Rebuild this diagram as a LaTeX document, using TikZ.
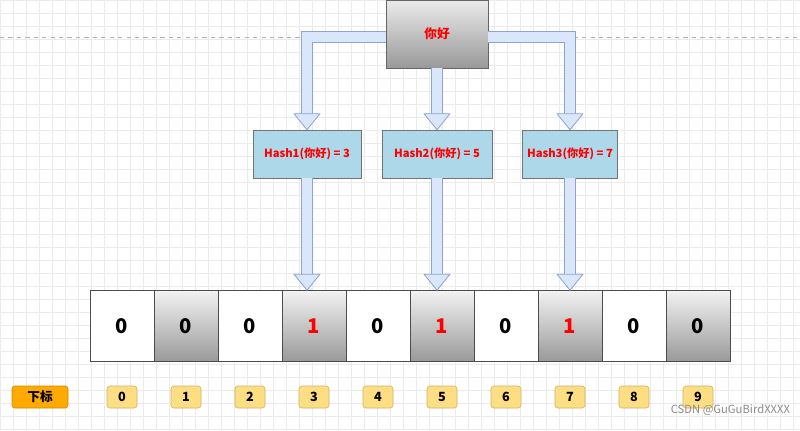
\documentclass[tikz,border=0pt]{standalone}
\usepackage{fontspec}
\setmainfont{Noto Sans CJK SC}
\usetikzlibrary{positioning}
\definecolor{arrowline}{RGB}{140,165,215}
\definecolor{arrowfill}{RGB}{218,230,250}
\definecolor{hashfill}{RGB}{172,216,234}
\definecolor{idxfill}{RGB}{253,222,130}
\definecolor{keyfill}{RGB}{255,170,0}
\tikzset{
  cell/.style={draw=black!70, minimum width=64*0.025cm, minimum height=71*0.025cm, inner sep=0pt, font=\bfseries\Large},
  shaded cell/.style={cell, top color=black!5, bottom color=black!40},
  hashbox/.style={draw=black!55, fill=hashfill, minimum width=#1*0.025cm, minimum height=48*0.025cm, font=\bfseries\footnotesize, text=red},
  idx/.style={draw=idxfill!80!black, fill=idxfill, rounded corners=2pt, minimum width=30*0.025cm, minimum height=22*0.025cm, inner sep=0pt, font=\bfseries\small},
  fat/.style={draw=arrowline, double=arrowfill, double distance=10*0.025cm, line width=0.6pt, shorten >=15*0.025cm},
  fathead/.style={draw=arrowline, fill=arrowfill, line width=0.6pt, line join=round}
}
\newcommand\headat[1]{\draw[fathead] (#1) -- ++(-13,-16) -- ++(26,0) -- cycle;}
\begin{document}
\begin{tikzpicture}[x=0.025cm, y=-0.025cm]
  \useasboundingbox (0,0) rectangle (800,430);
  % background grid
  \draw[black!8, step=13*0.025cm] (0,0) grid (800,430);
  \draw[black!30, dashed] (0,37) -- (800,37);
  % source word
  \node[draw=black!60, top color=black!8, bottom color=black!40, minimum width=102*0.025cm, minimum height=68*0.025cm, font=\bfseries\small, text=red] (src) at (437,34) {你好};
  % hash functions
  \node[hashbox=108] (h1) at (307,154) {Hash1(你好) = 3};
  \node[hashbox=110] (h2) at (437,154) {Hash2(你好) = 5};
  \node[hashbox=92] (h3) at (570,154) {Hash3(你好) = 7};
  % bit array
  \foreach \i/\v in {0/0,1/0,2/0,3/1,4/0,5/1,6/0,7/1,8/0,9/0} {
    \pgfmathparse{int(mod(\i,2))}
    \ifnum\pgfmathresult=0
      \node[cell, fill=white] (c\i) at (122+64*\i,326) {\v};
    \else
      \node[shaded cell] (c\i) at (122+64*\i,326) {\ifnum\v=1\textcolor{red}{\v}\else\v\fi};
    \fi
    \node[idx] (i\i) at (122+64*\i,397) {\i};
  }
  \node[idx, fill=keyfill, draw=keyfill!80!black, minimum width=56*0.025cm] (key) at (40,397) {下标};
  % fat arrows
  \draw[fat] ([yshift=-2]src.west) -| (h1.north); \headat{h1.north}
  \draw[fat] (src.south) -- (h2.north); \headat{h2.north}
  \draw[fat] ([yshift=-2]src.east) -| (h3.north); \headat{h3.north}
  \draw[fat] (h1.south) -- (h1.south |- c3.north) coordinate (t1); \headat{t1}
  \draw[fat] (h2.south) -- (h2.south |- c5.north) coordinate (t2); \headat{t2}
  \draw[fat] (h3.south) -- (h3.south |- c7.north) coordinate (t3); \headat{t3}
  \node[text=black!45, font=\footnotesize, anchor=east] (mark) at (795,410) {CSDN @GuGuBirdXXXX};
\end{tikzpicture}
\end{document}
